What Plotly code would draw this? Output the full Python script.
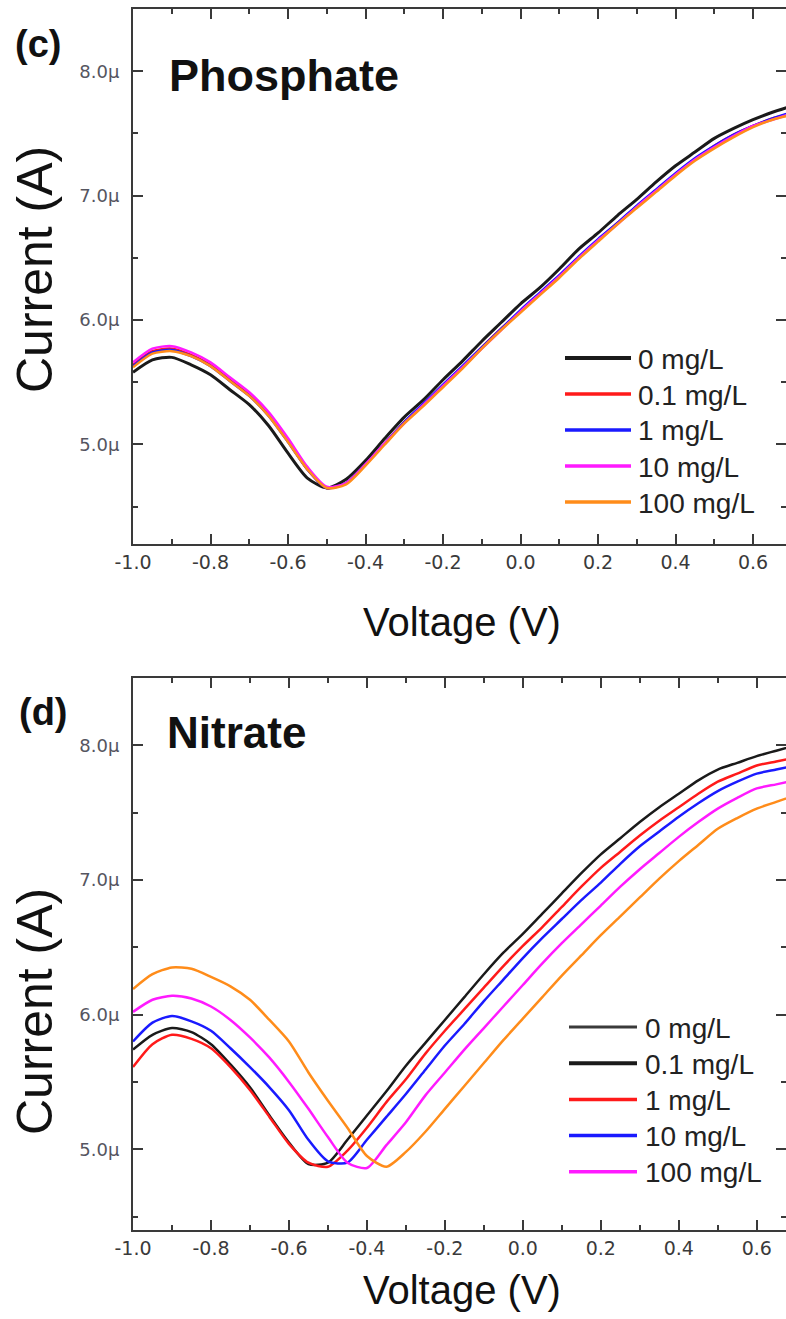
import plotly.graph_objects as go

# ---------------- data (current in µA) ----------------
VOLTAGE = [-1.00, -0.95, -0.90, -0.85, -0.80, -0.75, -0.70, -0.65, -0.60, -0.55,
           -0.50, -0.45, -0.40, -0.35, -0.30, -0.25, -0.20, -0.15, -0.10, -0.05,
           0.00, 0.05, 0.10, 0.15, 0.20, 0.25, 0.30, 0.35, 0.40, 0.45,
           0.50, 0.55, 0.60, 0.65, 0.70]

CONCENTRATIONS = ["0 mg/L", "0.1 mg/L", "1 mg/L", "10 mg/L", "100 mg/L"]

# Phosphate panel (c)
PHOS_0 = [5.58, 5.68, 5.70, 5.64, 5.56, 5.44, 5.32, 5.15, 4.93, 4.73,
          4.65, 4.72, 4.87, 5.05, 5.22, 5.36, 5.52, 5.67, 5.83, 5.98,
          6.13, 6.26, 6.41, 6.57, 6.70, 6.84, 6.97, 7.11, 7.24, 7.35,
          7.46, 7.54, 7.61, 7.67, 7.72]
PHOS_01 = [5.64, 5.75, 5.77, 5.72, 5.64, 5.52, 5.40, 5.24, 5.03, 4.80,
           4.65, 4.69, 4.84, 5.01, 5.18, 5.32, 5.47, 5.62, 5.78, 5.93,
           6.07, 6.21, 6.35, 6.50, 6.64, 6.78, 6.91, 7.04, 7.17, 7.29,
           7.40, 7.49, 7.56, 7.62, 7.66]
PHOS_1 = [5.63, 5.74, 5.76, 5.71, 5.63, 5.51, 5.39, 5.23, 5.02, 4.80,
          4.65, 4.69, 4.84, 5.01, 5.18, 5.33, 5.48, 5.63, 5.78, 5.93,
          6.08, 6.22, 6.36, 6.51, 6.65, 6.78, 6.92, 7.05, 7.18, 7.30,
          7.40, 7.49, 7.56, 7.62, 7.67]
PHOS_10 = [5.66, 5.77, 5.79, 5.74, 5.66, 5.54, 5.42, 5.26, 5.05, 4.82,
           4.66, 4.69, 4.84, 5.01, 5.17, 5.32, 5.47, 5.62, 5.77, 5.92,
           6.07, 6.21, 6.35, 6.50, 6.64, 6.77, 6.91, 7.04, 7.17, 7.29,
           7.39, 7.48, 7.56, 7.61, 7.66]
PHOS_100 = [5.62, 5.73, 5.75, 5.71, 5.63, 5.51, 5.39, 5.23, 5.02, 4.80,
            4.65, 4.68, 4.83, 5.00, 5.17, 5.31, 5.46, 5.61, 5.77, 5.92,
            6.06, 6.20, 6.34, 6.49, 6.63, 6.77, 6.90, 7.03, 7.16, 7.28,
            7.38, 7.47, 7.55, 7.61, 7.65]

# Nitrate panel (d)
NIT_BLACK = [5.74, 5.85, 5.90, 5.87, 5.78, 5.63, 5.46, 5.25, 5.05, 4.89,
             4.90, 5.07, 5.25, 5.43, 5.62, 5.79, 5.96, 6.13, 6.30, 6.46,
             6.60, 6.75, 6.90, 7.05, 7.19, 7.31, 7.43, 7.54, 7.64, 7.74,
             7.82, 7.87, 7.92, 7.96, 8.00]
NIT_RED = [5.61, 5.78, 5.85, 5.82, 5.75, 5.61, 5.44, 5.24, 5.04, 4.90,
           4.87, 4.99, 5.16, 5.35, 5.52, 5.71, 5.88, 6.04, 6.20, 6.36,
           6.51, 6.65, 6.80, 6.95, 7.09, 7.21, 7.33, 7.44, 7.54, 7.64,
           7.73, 7.79, 7.85, 7.88, 7.91]
NIT_BLUE = [5.80, 5.94, 5.99, 5.95, 5.88, 5.75, 5.61, 5.46, 5.29, 5.07,
            4.91, 4.90, 5.07, 5.24, 5.41, 5.59, 5.77, 5.93, 6.10, 6.26,
            6.42, 6.57, 6.71, 6.85, 6.98, 7.12, 7.25, 7.36, 7.47, 7.57,
            7.66, 7.73, 7.79, 7.82, 7.85]
NIT_MAGENTA = [6.02, 6.11, 6.14, 6.12, 6.06, 5.96, 5.83, 5.68, 5.50, 5.30,
               5.09, 4.90, 4.86, 5.03, 5.20, 5.40, 5.57, 5.74, 5.90, 6.06,
               6.22, 6.38, 6.53, 6.67, 6.81, 6.95, 7.08, 7.20, 7.32, 7.43,
               7.53, 7.61, 7.68, 7.71, 7.74]
NIT_ORANGE = [6.19, 6.30, 6.35, 6.34, 6.28, 6.21, 6.11, 5.96, 5.80, 5.57,
              5.36, 5.16, 4.95, 4.87, 4.98, 5.13, 5.30, 5.47, 5.64, 5.81,
              5.97, 6.13, 6.29, 6.44, 6.59, 6.73, 6.87, 7.01, 7.14, 7.26,
              7.38, 7.46, 7.53, 7.58, 7.63]

X_TICK_VALS = [-1.0, -0.8, -0.6, -0.4, -0.2, 0.0, 0.2, 0.4, 0.6]
X_TICK_TEXT = ["-1.0", "-0.8", "-0.6", "-0.4", "-0.2", "0.0", "0.2", "0.4", "0.6"]
Y_TICK_VALS = [5.0, 6.0, 7.0, 8.0]
Y_TICK_TEXT = ["5.0\u03bc", "6.0\u03bc", "7.0\u03bc", "8.0\u03bc"]

BLACK, RED, BLUE, MAGENTA, ORANGE = "#1a1a1a", "#ff1a1a", "#1a1aff", "#ff1aff", "#ff8c1a"

PHOS_SERIES = [PHOS_0, PHOS_01, PHOS_1, PHOS_10, PHOS_100]
PHOS_COLORS = [BLACK, RED, BLUE, MAGENTA, ORANGE]
PHOS_LEG_COLORS = [BLACK, RED, BLUE, MAGENTA, ORANGE]
PHOS_LEG_WIDTHS = [4, 3.5, 3.5, 3.5, 3.5]

NIT_SERIES = [NIT_BLACK, NIT_RED, NIT_BLUE, NIT_MAGENTA, NIT_ORANGE]
NIT_COLORS = [BLACK, RED, BLUE, MAGENTA, ORANGE]
NIT_LEG_COLORS = ["#3a3a3a", BLACK, RED, BLUE, MAGENTA]   # legend as printed
NIT_LEG_WIDTHS = [3, 4, 3.5, 3.5, 3.5]

# ---------------- layout helpers ----------------
W, H = 786, 1319
FONT = "Arial, Liberation Sans, sans-serif"


def fx(p):
    return p / W


def fy(p):
    return 1 - p / H


fig = go.Figure()

for vals, col in zip(PHOS_SERIES, PHOS_COLORS):
    fig.add_trace(go.Scatter(x=VOLTAGE, y=vals, mode="lines", xaxis="x", yaxis="y",
                             line=dict(color=col, width=3 if col == BLACK else 2.5,
                                       shape="spline", smoothing=0.7),
                             showlegend=False, hoverinfo="skip"))
for vals, col in zip(NIT_SERIES, NIT_COLORS):
    fig.add_trace(go.Scatter(x=VOLTAGE, y=vals, mode="lines", xaxis="x2", yaxis="y2",
                             line=dict(color=col, width=2.5, shape="spline", smoothing=0.7),
                             showlegend=False, hoverinfo="skip"))

AX = "#3a3a3a"


def xax(rng, anchor):
    return dict(domain=[fx(133), 1.0], range=rng, anchor=anchor, automargin=False,
                tickmode="array", tickvals=X_TICK_VALS, ticktext=X_TICK_TEXT,
                ticks="inside", ticklen=10, tickwidth=2, tickcolor=AX,
                minor=dict(dtick=0.1, tick0=-1.0, ticks="inside", ticklen=5,
                           tickwidth=2, tickcolor=AX),
                showline=True, linewidth=2, linecolor=AX, mirror="ticks",
                showgrid=False, zeroline=False,
                tickfont=dict(family="DejaVu Sans, sans-serif", size=19, color="#3a3a3a"))


def yax(dom, rng, anchor):
    return dict(domain=dom, range=rng, anchor=anchor, automargin=False,
                tickmode="array", tickvals=Y_TICK_VALS, ticktext=Y_TICK_TEXT,
                ticks="inside", ticklen=10, tickwidth=2, tickcolor=AX,
                minor=dict(dtick=0.5, tick0=4.5, ticks="inside", ticklen=5,
                           tickwidth=2, tickcolor=AX),
                showline=True, linewidth=2, linecolor=AX, mirror="ticks",
                showgrid=False, zeroline=False, ticklabelstandoff=8,
                tickfont=dict(family="DejaVu Sans, sans-serif", size=18, color="#555560"))


fig.update_layout(
    width=W, height=H, margin=dict(l=0, r=0, t=0, b=0, pad=0, autoexpand=False),
    paper_bgcolor="white", plot_bgcolor="white", showlegend=False,
    xaxis=xax([-1.0, 0.685], "y"),
    yaxis=yax([fy(544), fy(9)], [4.2, 8.5], "x"),
    xaxis2=xax([-1.0, 0.675], "y2"),
    yaxis2=yax([fy(1230), fy(678)], [4.4, 8.5], "x2"),
)

ann = []
shapes = []


def text(x, y, s, size, bold=False, xanchor="center", angle=0, color="#111"):
    ann.append(dict(x=fx(x), y=fy(y), xref="paper", yref="paper", text=(f"<b>{s}</b>" if bold else s),
                    showarrow=False, xanchor=xanchor, yanchor="middle", textangle=angle,
                    font=dict(family=FONT, size=size, color=color)))


# panel labels and titles
text(38, 44, "(c)", 38, bold=True)
text(43, 712, "(d)", 38, bold=True)
text(167, 76, "Phosphate", 45, bold=True, xanchor="left")
text(165, 732, "Nitrate", 44, bold=True, xanchor="left")
text(462, 622, "Voltage (V)", 40)
text(462, 1290, "Voltage (V)", 40)
text(35, 270, "Current (A)", 50, angle=-90)
text(35, 1012, "Current (A)", 50, angle=-90)


# legends (as printed in the figure)
def legend(x0, x1, xt, y0, dy, colors, widths):
    for i, (lab, col, wd) in enumerate(zip(CONCENTRATIONS, colors, widths)):
        y = y0 + dy * i
        shapes.append(dict(type="line", xref="paper", yref="paper", x0=fx(x0), x1=fx(x1),
                           y0=fy(y), y1=fy(y), line=dict(color=col, width=wd)))
        text(xt, y + 1, lab, 28, xanchor="left", color="#222")


legend(565, 631, 636, 358, 36, PHOS_LEG_COLORS, PHOS_LEG_WIDTHS)
legend(569, 637, 643, 1027, 36.2, NIT_LEG_COLORS, NIT_LEG_WIDTHS)

fig.update_layout(annotations=ann, shapes=shapes)
fig.write_html("out.html")
